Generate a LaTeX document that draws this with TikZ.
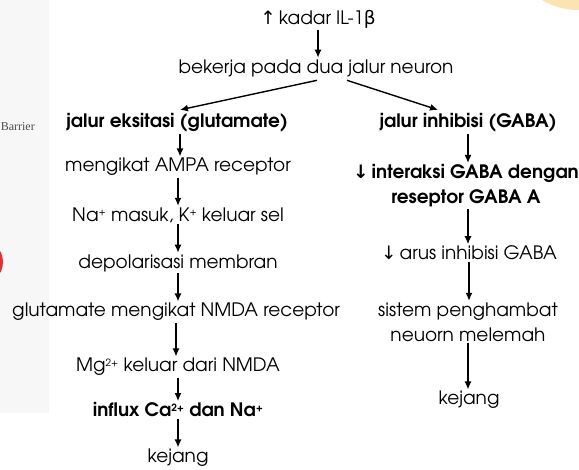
\documentclass[tikz,border=0pt]{standalone}
\usepackage{fontspec}
\setmainfont{texgyreadventor}[Extension=.otf,UprightFont=*-regular,BoldFont=*-bold]
\newfontfamily\symfont{DejaVu Sans}
\newfontfamily\seriffont{Liberation Serif}
\usepackage{xcolor}
\usetikzlibrary{arrows.meta,positioning,calc}
\definecolor{panel}{RGB}{247,247,247}
\definecolor{oranye}{RGB}{251,227,178}
\definecolor{merah}{RGB}{250,40,40}
\newcommand{\naik}{{\symfont ↑}\,}
\newcommand{\turun}{{\symfont ↓}\,}
\newcommand{\atas}[1]{\raisebox{0.55ex}{\fontsize{10}{10}\selectfont #1}}

\begin{document}
\begin{tikzpicture}[x=1pt,y=-1pt,
    teks/.style={font=\fontsize{18.5}{25}\selectfont,inner sep=1.5pt,align=center},
    tebal/.style={teks,font=\fontsize{18.5}{25}\selectfont\bfseries},
    panah/.style={-{Latex[length=8pt,width=7pt]},line width=1.4pt}]
  \useasboundingbox (0,0) rectangle (579,470);
  \clip (0,0) rectangle (579,470);
  % latar: panel kiri, lingkaran
  \fill[panel] (0,0) rectangle (49,413);
  \fill[oranye] (578,-60) circle (70);
  \fill[merah] (-20,262) circle (23);
  \node[font=\seriffont\fontsize{12}{14}\selectfont,text=black!70,anchor=east,inner sep=0pt] (barrier) at (35,127) {Barrier};
  % jalur utama
  \node[teks] (il) at (318,19) {\naik kadar IL-1{\symfont β}};
  \node[teks] (bekerja) at (316,68) {bekerja pada dua jalur neuron};
  \node[tebal] (eksit) at (177,123) {jalur eksitasi (glutamate)};
  \node[tebal] (inhib) at (468,123) {jalur inhibisi (GABA)};
  % jalur eksitasi
  \node[teks] (ampa) at (178,167) {mengikat AMPA receptor};
  \node[teks] (nak) at (178,215) {Na\atas{+} masuk, K\atas{+} keluar sel};
  \node[teks] (depol) at (178,263) {depolarisasi membran};
  \node[teks] (nmda) at (176,312) {glutamate mengikat NMDA receptor};
  \node[teks] (mg) at (178,367) {Mg\atas{2+} keluar dari NMDA};
  \node[tebal] (influx) at (178,410) {influx Ca\atas{\bfseries 2+} dan Na\atas{\bfseries +}};
  \node[teks] (kejangA) at (178,458) {kejang};
  % jalur inhibisi
  \node[tebal] (interaksi) at (466,186) {\turun interaksi GABA dengan\\reseptor GABA A};
  \node[teks] (arus) at (469,253) {\turun arus inhibisi GABA};
  \node[teks] (sistem) at (468,322) {sistem penghambat\\neuorn melemah};
  \node[teks] (kejangB) at (469,400) {kejang};
  % panah
  \draw[panah] (il.south) -- (il.south|-bekerja.north);
  \draw[panah] ([xshift=1pt,yshift=-2pt]bekerja.south) -- ([xshift=3pt,yshift=2pt]eksit.north);
  \draw[panah] ([xshift=31pt,yshift=-2pt]bekerja.south) -- ([xshift=-30pt,yshift=2pt]inhib.north);
  \draw[panah] ([xshift=3pt]eksit.south) -- ([xshift=3pt]eksit.south|-ampa.north);
  \draw[panah] (inhib.south) -- (inhib.south|-interaksi.north);
  \draw[panah] (inhib.south|-interaksi.south) -- (inhib.south|-arus.north);
  \foreach \a/\b in {ampa/nak,nak/depol,depol/nmda,nmda/mg,mg/influx,influx/kejangA,arus/sistem,sistem/kejangB}
    \draw[panah] (\a.south) -- (\a.south|-\b.north);
\end{tikzpicture}
\end{document}
